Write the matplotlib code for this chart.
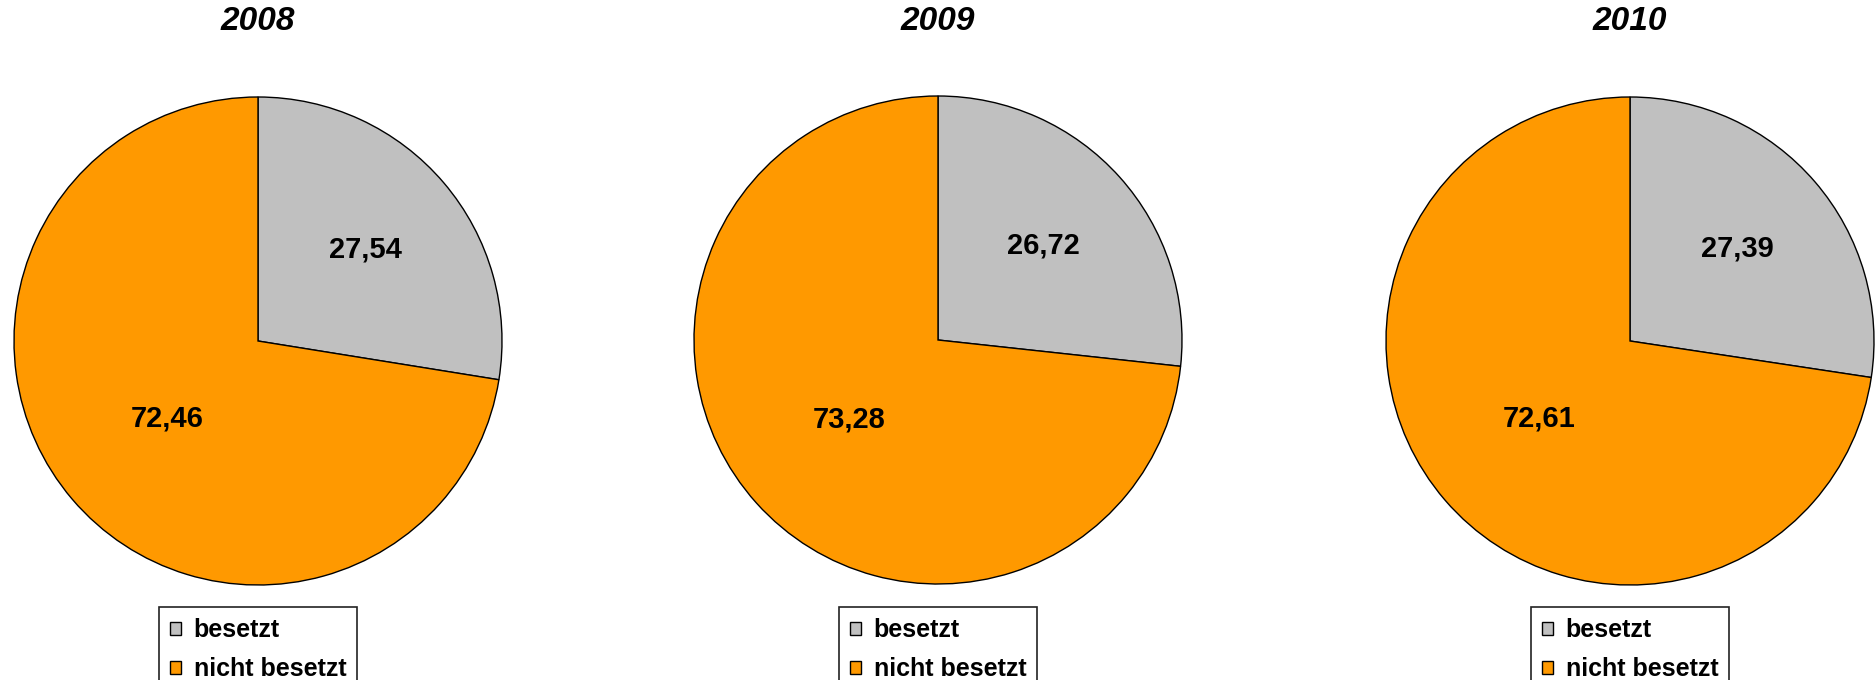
import numpy as np
import matplotlib
matplotlib.use("Agg")
import matplotlib.pyplot as plt

plt.rcParams['font.family'] = ['Liberation Sans', 'DejaVu Sans']

jahre = ['2008', '2009', '2010']
kategorien = ['besetzt', 'nicht besetzt']
besetzt = [27.54, 26.72, 27.39]
nicht_besetzt = [72.46, 73.28, 72.61]
farben = ['#C0C0C0', '#FF9900']

W, H = 1876, 680
fig = plt.figure(figsize=(W / 100, H / 100), dpi=100)

# Kreismittelpunkte und Radius in Pixeln
mitten = [(258, 341), (938, 340), (1630, 341)]
r = 244
# Abstand der Beschriftung vom Mittelpunkt (Anteil vom Radius)
abstand = [0.58, 0.49]

for i, jahr in enumerate(jahre):
    cx, cy = mitten[i]
    ax = fig.add_axes([(cx - r) / W, (H - cy - r) / H, 2 * r / W, 2 * r / H])
    werte = [besetzt[i], nicht_besetzt[i]]
    wedges, _ = ax.pie(werte, colors=farben, startangle=90, counterclock=False,
                       wedgeprops=dict(edgecolor='black', linewidth=1.0))
    ax.set_xlim(-1, 1)
    ax.set_ylim(-1, 1)
    for k, w in enumerate(wedges):
        mitte = np.deg2rad((w.theta1 + w.theta2) / 2)
        d = abstand[k]
        ax.text(d * np.cos(mitte), d * np.sin(mitte),
                f'{werte[k]:.2f}'.replace('.', ','),
                ha='center', va='center', fontsize=21, fontweight='bold')
    fig.text(cx / W, 1 - 21 / H, jahr, ha='center', va='center',
             fontsize=24, fontweight='bold', fontstyle='italic')
    leg = ax.legend(wedges, kategorien, loc='upper center',
                    bbox_to_anchor=(cx / W, 1 - 607 / H),
                    bbox_transform=fig.transFigure,
                    prop=dict(size=18, weight='bold'),
                    handlelength=0.45, handleheight=0.45, handletextpad=0.5,
                    labelspacing=0.6, borderpad=0.45, borderaxespad=0,
                    fancybox=False, framealpha=1)
    leg.get_frame().set_edgecolor('#222222')
    leg.get_frame().set_linewidth(1.2)
    for h in leg.legend_handles:
        h.set_linewidth(1.0)

fig.savefig('out.png', dpi=100)
